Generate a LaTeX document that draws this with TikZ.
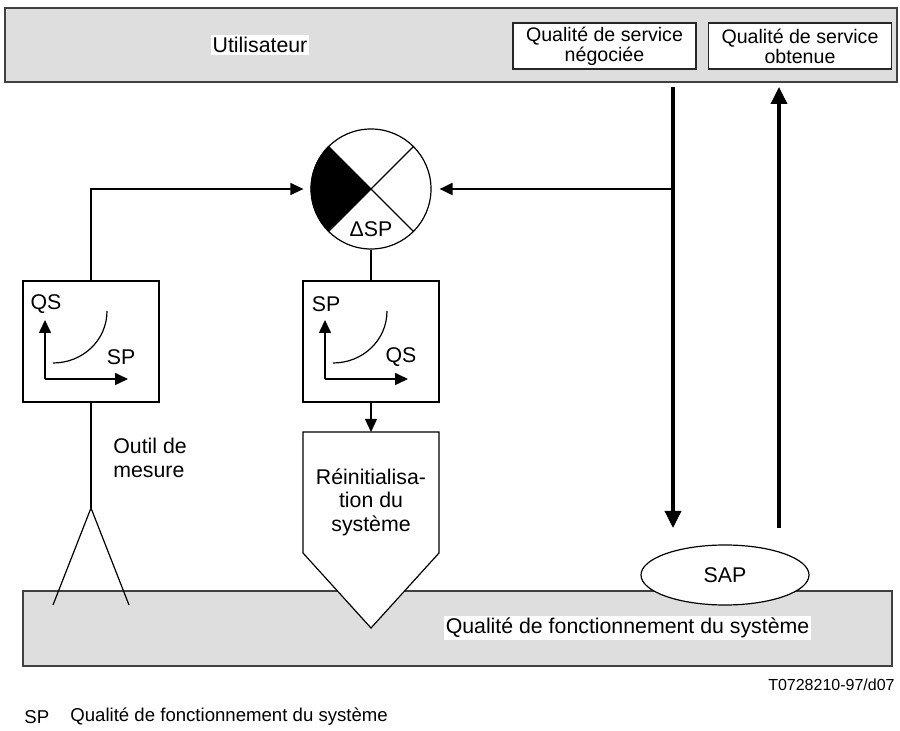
\documentclass[tikz,border=0pt]{standalone}
\usepackage{fontspec}
\setmainfont{Liberation Sans}
\usepackage{tikz}
\usetikzlibrary{shapes, arrows.meta, positioning, backgrounds}
\tikzstyle{layer}=[draw=black!75,fill=black!13,line width=1pt,inner sep=0pt]
\tikzstyle{qos}=[draw=black!85,fill=white,line width=0.6pt,minimum width=91.5pt,minimum height=23pt,align=center,inner sep=0pt,font=\fontsize{9.8}{8.7}\selectfont]
\tikzstyle{curvebox}=[draw,fill=white,line width=0.6pt,minimum width=68pt,minimum height=60.5pt]
\tikzstyle{label_w}=[fill=white,inner sep=1pt]
\tikzstyle{mainedge}=[-{Triangle[length=8.5pt,width=8pt]},line width=1.75pt]
\tikzstyle{thinedge}=[-{Triangle[length=6.5pt,width=6pt]},line width=0.6pt]
\tikzstyle{axis}=[-{Triangle[length=6.5pt,width=6pt]},line width=0.8pt]
\tikzstyle{thin_l}=[line width=0.6pt]
\tikzstyle{keytext}=[anchor=west,inner sep=0pt,font=\fontsize{9.3}{10}\selectfont]

\begin{document}
\begin{tikzpicture}[x=0.5pt,y=-0.5pt,font=\fontsize{10.65}{11.7}\selectfont]
\useasboundingbox (0,0) rectangle (900,731);

% top layer
\node[layer,minimum width=446pt,minimum height=37pt] (user) at (451,45) {};
\node[label_w] (user_t) at (260,45) {Utilisateur};
\node[qos] (neg) at (604.5,46) {Qualité de service\\négociée};
\node[qos] (obt) at (800,46) {Qualité de service\\obtenue};

% bottom layer
\node[layer,minimum width=434.5pt,minimum height=37.5pt] (sys) at (457.5,628.5) {};
\node[label_w] (sys_t) at (627.5,628) {Qualité de fonctionnement du système};
\node[ellipse,draw,fill=white,thin_l,minimum width=84pt,minimum height=30pt] (sap) at (725,575) {SAP};

% comparator
\node[circle,draw,fill=white,thin_l,minimum size=60pt,inner sep=0pt] (cmp) at (371,189) {};
\fill (cmp.center) -- (cmp.135) arc[start angle=135,end angle=225,radius=30pt] -- cycle;
\draw[thin_l] (cmp.45) -- (cmp.225) (cmp.135) -- (cmp.315);
\node (dsp) at (371,229) {ΔSP};

% measured curve
\node[curvebox] (meas) at (91,341.5) {};
\coordinate (meas_o) at (45,379);
\draw[axis] (meas_o) -- ++(0,-59);
\draw[axis] (meas_o) -- ++(83,0);
\draw[thin_l] (53,363) .. controls (83,363) and (107,340) .. (107,311);
\node (meas_y) at (46,304) {QS};
\node (meas_x) at (121,357) {SP};

% inverse curve
\node[curvebox] (inv) at (371,341.5) {};
\coordinate (inv_o) at (325,379);
\draw[axis] (inv_o) -- ++(0,-59);
\draw[axis] (inv_o) -- ++(83,0);
\draw[thin_l] (333,363) .. controls (363,363) and (387,340) .. (387,311);
\node (inv_y) at (326,304) {SP};
\node (inv_x) at (401,357) {QS};

% reset block
\coordinate (rst_n) at (371,432);
\draw[thin_l,fill=white] (303,432) -- (439,432) -- (439,553) -- (371,628) -- (303,553) -- cycle;
\node[align=center] (rst) at (371,502) {Réinitialisa-\\tion du\\système};

% measuring tool
\coordinate (probe) at (91,508);
\coordinate (leg_l) at (53,605);
\coordinate (leg_r) at (129,605);
\draw[thin_l] (meas.south) -- (probe);
\draw[thin_l] (leg_l) -- (probe) -- (leg_r);
\node[anchor=west,align=left,inner sep=0pt] (tool) at (113,458) {Outil de\\mesure};

% connectors
\draw[thinedge,shorten >=3.5pt] (meas.north) |- (cmp.west);
\draw[thin_l] (cmp.south) -- (inv.north);
\draw[thinedge] (inv.south) -- (rst_n);
\coordinate (neg_s) at (673,87);
\coordinate (sap_in) at (673,528);
\coordinate (sap_out) at (779,528);
\coordinate (obt_s) at (779,87);
\coordinate (tap) at (673,189);
\draw[mainedge] (neg_s) -- (sap_in);
\draw[mainedge] (sap_out) -- (obt_s);
\draw[-{Triangle[length=6.5pt,width=6pt]},line width=1pt,shorten >=4pt] (tap) -- (cmp.east);

% key
\node[anchor=east,inner sep=0pt,font=\fontsize{8}{9}\selectfont] (ref) at (895,685) {T0728210-97/d07};
\node[keytext] (key_sp) at (24,717) {SP};
\node[keytext] (key_t) at (70,717) {Qualité de fonctionnement du système};

\end{tikzpicture}
\end{document}
